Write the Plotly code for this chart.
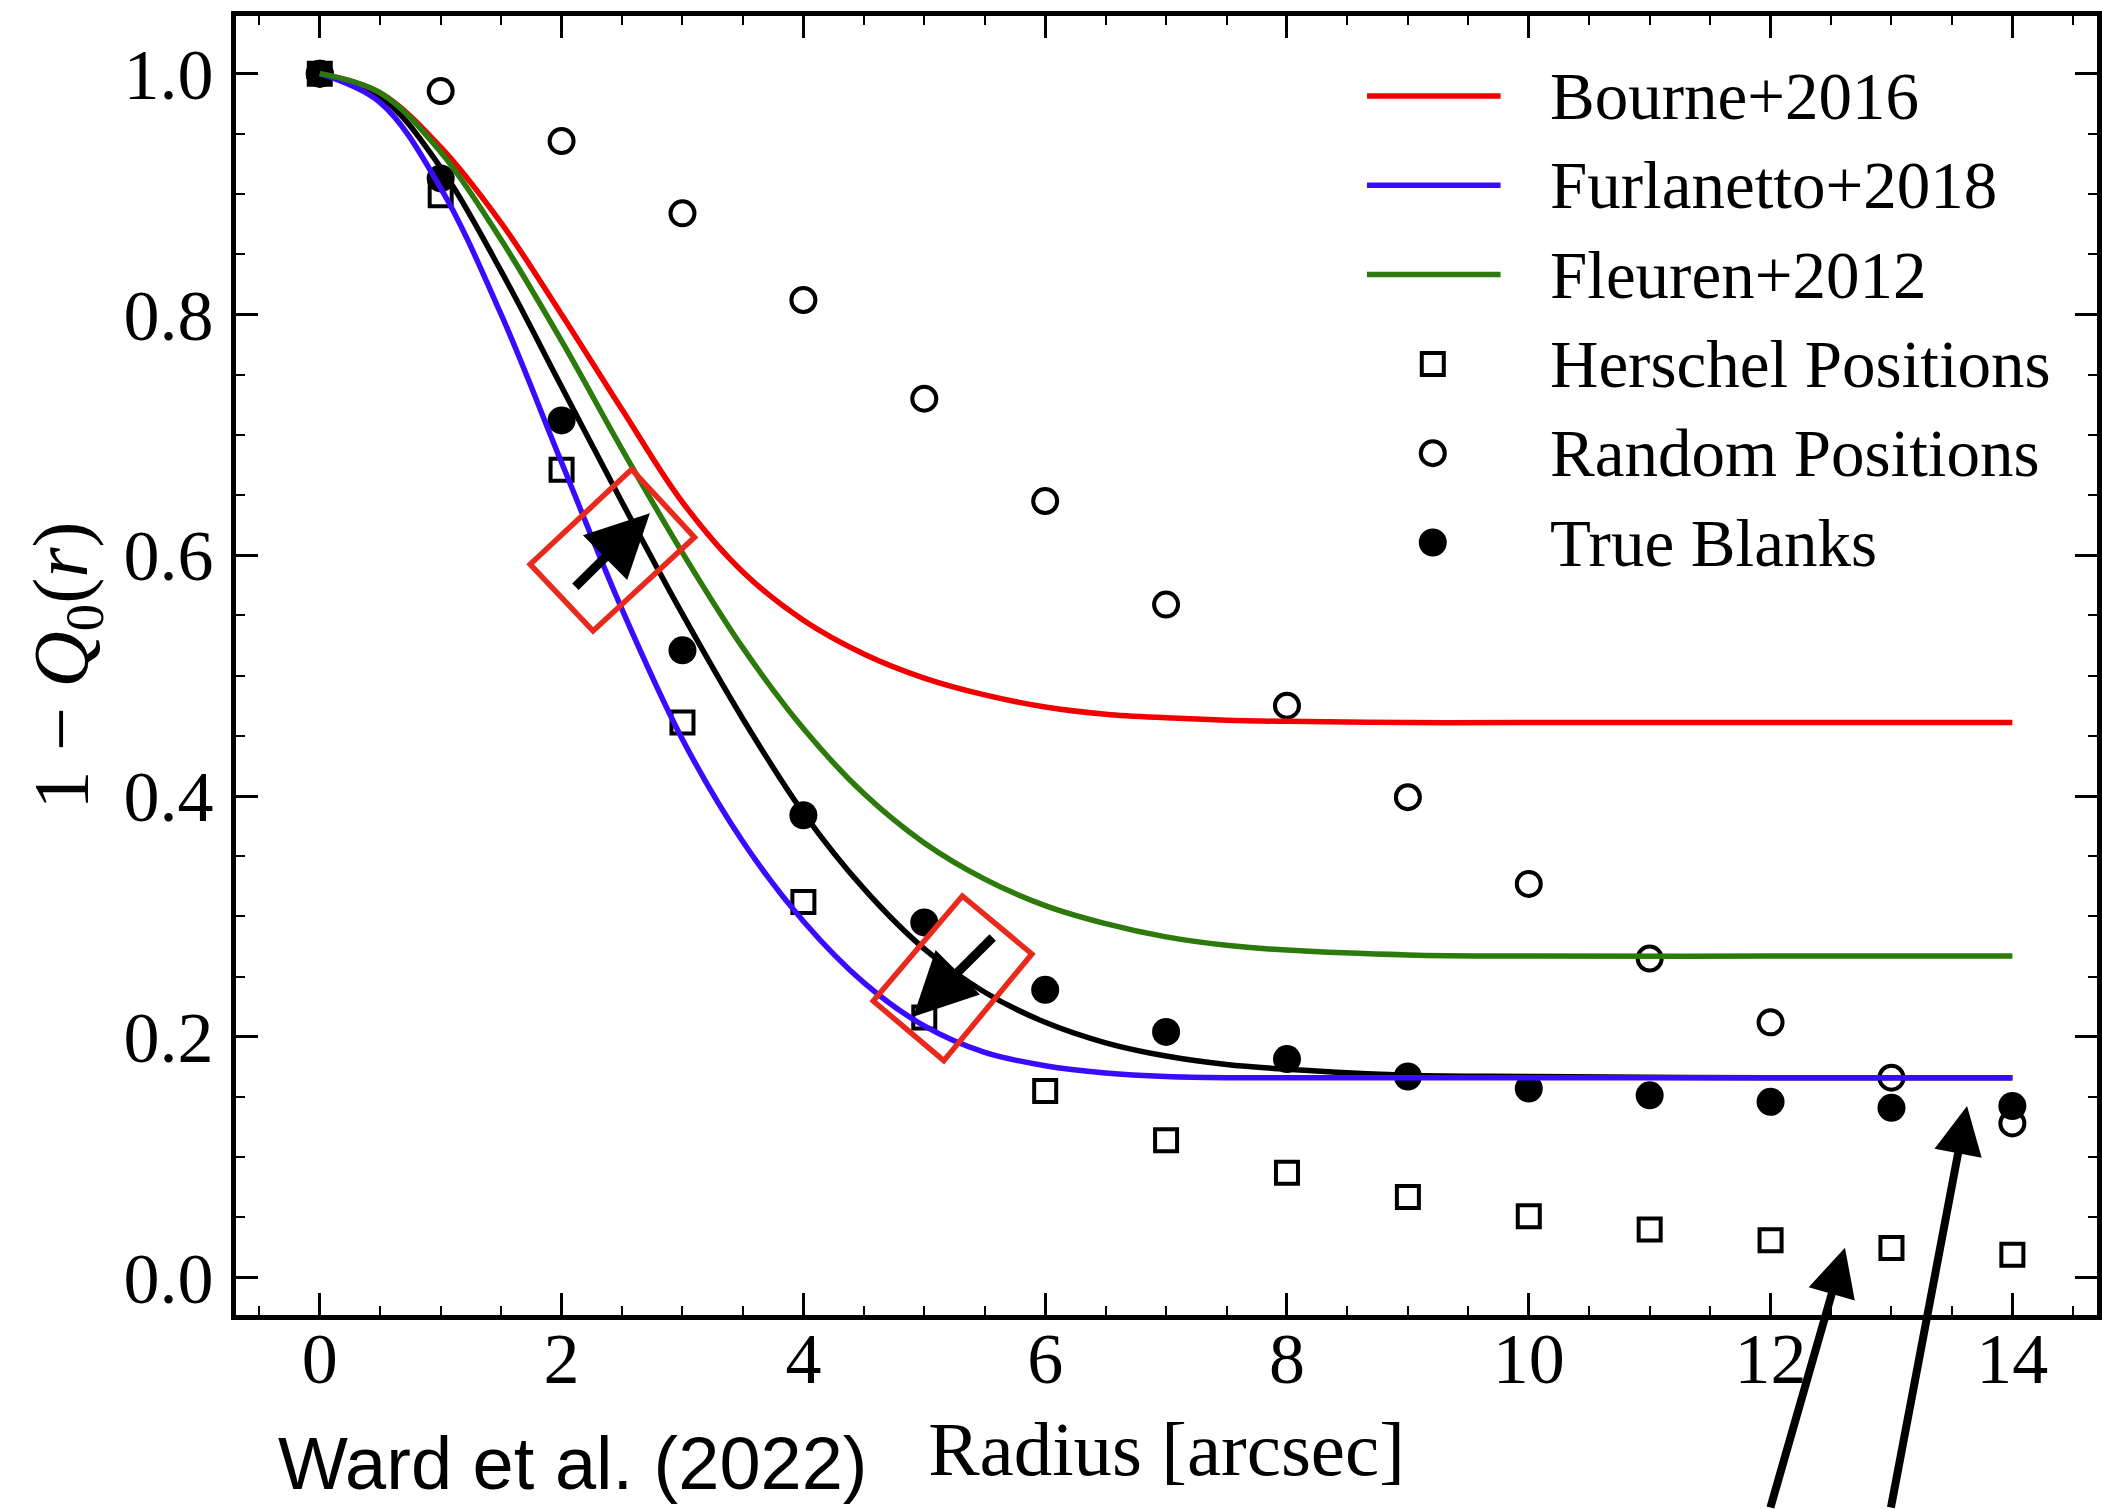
import plotly.graph_objects as go

# ---------------- data ----------------
radius = list(range(15))
herschel = [1.0, 0.899, 0.671, 0.461, 0.312, 0.216, 0.155, 0.114, 0.087, 0.067,
            0.051, 0.040, 0.031, 0.0245, 0.019]
random_pos = [1.0, 0.9855, 0.944, 0.884, 0.812, 0.730, 0.645, 0.559, 0.475, 0.399,
              0.327, 0.265, 0.212, 0.166, 0.128]
true_blanks = [1.0, 0.913, 0.712, 0.521, 0.384, 0.295, 0.239, 0.204, 0.1815, 0.167,
               0.157, 0.1514, 0.146, 0.141, 0.1425]

curve_r = [0, 0.5, 1, 1.5, 2, 2.5, 3, 3.5, 4, 4.5, 5, 5.5, 6, 6.5, 7, 7.5, 8, 9, 10, 12, 14]
bourne = [1.0, 0.984, 0.939, 0.876, 0.800, 0.721, 0.644, 0.586, 0.546, 0.518, 0.498,
          0.484, 0.474, 0.468, 0.465, 0.463, 0.462, 0.461, 0.461, 0.461, 0.461]
furlanetto = [1.0, 0.976, 0.905, 0.800, 0.677, 0.555, 0.447, 0.362, 0.296, 0.245, 0.209,
              0.187, 0.176, 0.170, 0.167, 0.166, 0.166, 0.166, 0.166, 0.166, 0.166]
fleuren = [1.0, 0.984, 0.935, 0.862, 0.778, 0.688, 0.602, 0.523, 0.456, 0.402, 0.361,
           0.331, 0.309, 0.294, 0.283, 0.276, 0.272, 0.268, 0.267, 0.267, 0.267]
fit_curve = [1.0, 0.981, 0.922, 0.836, 0.740, 0.644, 0.551, 0.464, 0.386, 0.323, 0.273,
             0.237, 0.212, 0.195, 0.184, 0.177, 0.173, 0.168, 0.167, 0.166, 0.166]

line_labels = ["Bourne+2016", "Furlanetto+2018", "Fleuren+2012"]
marker_labels = ["Herschel Positions", "Random Positions", "True Blanks"]
x_ticks = [0, 2, 4, 6, 8, 10, 12, 14]
y_ticks = [0.0, 0.2, 0.4, 0.6, 0.8, 1.0]

# ---------------- styles ----------------
W, H = 2102, 1509
ML, MR, MT, MB = 236, 0, 16, 194
PW, PH = W - ML - MR, H - MT - MB
RED, BLUE, GREEN, BLACK = "#f20000", "#3a0cff", "#2b7a0b", "#000000"
BOXRED = "#e8291c"
SERIF = "Liberation Serif"
SANS = "Liberation Sans"
LW = 5.5
MLW = 4


def px(x):
    return (x - ML) / PW


def py(y):
    return (H - MB - y) / PH


fig = go.Figure()

# markers
fig.add_trace(go.Scatter(x=radius, y=herschel, mode="markers", name=marker_labels[0],
                         marker=dict(symbol="square-open", size=22, color=BLACK,
                                     line=dict(width=MLW, color=BLACK)), showlegend=False))
fig.add_trace(go.Scatter(x=radius, y=random_pos, mode="markers", name=marker_labels[1],
                         marker=dict(symbol="circle-open", size=24, color=BLACK,
                                     line=dict(width=MLW, color=BLACK)), showlegend=False))
fig.add_trace(go.Scatter(x=radius, y=true_blanks, mode="markers", name=marker_labels[2],
                         marker=dict(symbol="circle", size=28, color=BLACK,
                                     line=dict(width=0)), showlegend=False))

# curves
for vals, col, name in [(fit_curve, BLACK, "fit"), (bourne, RED, line_labels[0]),
                        (furlanetto, BLUE, line_labels[1]), (fleuren, GREEN, line_labels[2])]:
    fig.add_trace(go.Scatter(x=curve_r, y=vals, mode="lines", name=name,
                             line=dict(color=col, width=LW, shape="spline", smoothing=1.0),
                             showlegend=False))

shapes = []
annotations = []

# ---------------- manual legend ----------------
row_y0, row_dy = 96.0, 89.3
line_x0, line_x1, mark_x, text_x = 1370, 1504, 1436, 1552
for i, (lab, col) in enumerate(zip(line_labels, [RED, BLUE, GREEN])):
    yy = row_y0 + i * row_dy
    shapes.append(dict(type="line", xref="paper", yref="paper", x0=px(line_x0), x1=px(line_x1),
                       y0=py(yy), y1=py(yy), line=dict(color=col, width=LW)))
for i, lab in enumerate(line_labels + marker_labels):
    yy = row_y0 + i * row_dy
    annotations.append(dict(text=lab, xref="paper", yref="paper", x=px(text_x), y=py(yy),
                            xanchor="left", yanchor="middle", showarrow=False,
                            font=dict(family=SERIF, size=67, color=BLACK)))
# legend marker keys
yy = row_y0 + 3 * row_dy
shapes.append(dict(type="rect", xref="paper", yref="paper", xsizemode="pixel", ysizemode="pixel",
                   xanchor=px(mark_x), yanchor=py(yy), x0=-11, x1=11, y0=-11, y1=11,
                   line=dict(color=BLACK, width=MLW)))
yy = row_y0 + 4 * row_dy
shapes.append(dict(type="circle", xref="paper", yref="paper", xsizemode="pixel", ysizemode="pixel",
                   xanchor=px(mark_x), yanchor=py(yy), x0=-12, x1=12, y0=-12, y1=12,
                   line=dict(color=BLACK, width=MLW)))
yy = row_y0 + 5 * row_dy
shapes.append(dict(type="circle", xref="paper", yref="paper", xsizemode="pixel", ysizemode="pixel",
                   xanchor=px(mark_x), yanchor=py(yy), x0=-14, x1=14, y0=-14, y1=14,
                   fillcolor=BLACK, line=dict(color=BLACK, width=0)))

# ---------------- red boxes ----------------
boxes = [[(632.7, 469.3), (695.7, 537.3), (594.0, 631.0), (531.0, 564.3)],
         [(964.3, 896.0), (1034.0, 954.0), (945.7, 1060.7), (875.0, 1001.0)]]
for corners in boxes:
    path = "M " + " L ".join(f"{px(a):.5f},{py(b):.5f}" for a, b in corners) + " Z"
    shapes.append(dict(type="path", xref="paper", yref="paper", path=path,
                       line=dict(color=BOXRED, width=5.5)))

# ---------------- arrows ----------------
arrows = [((651, 513.3), -76, 75, 9, 1.4),
          ((915, 1016.7), 81, -80.7, 9, 1.4),
          ((1849.3, 1247.7), -75, 313, 8, 1.2),
          ((1971.7, 1106.0), -76.4, 440, 8, 1.2)]
for (hx, hy), ax, ay, w, s in arrows:
    annotations.append(dict(text="", xref="paper", yref="paper", x=px(hx), y=py(hy),
                            ax=ax, ay=ay, showarrow=True, arrowhead=2, arrowsize=s,
                            arrowwidth=w, arrowcolor=BLACK, standoff=0))

# ---------------- credit text ----------------
annotations.append(dict(text="Ward et al. (2022)", xref="paper", yref="paper",
                        x=px(574), y=py(1463), xanchor="center", yanchor="middle",
                        showarrow=False, font=dict(family=SANS, size=74, color=BLACK)))

axis_common = dict(showline=True, linewidth=5, linecolor=BLACK, mirror="allticks",
                   ticks="inside", ticklen=22, tickwidth=2.5, tickcolor=BLACK,
                   showgrid=False, zeroline=False,
                   tickfont=dict(family=SERIF, size=72, color=BLACK))

fig.update_layout(
    width=W, height=H,
    margin=dict(l=ML, r=MR, t=MT, b=MB),
    paper_bgcolor="white", plot_bgcolor="white",
    showlegend=False,
    shapes=shapes, annotations=annotations,
    xaxis=dict(range=[-0.693, 14.7], tickvals=x_ticks, ticktext=[str(v) for v in x_ticks],
               minor=dict(ticks="inside", dtick=0.5, tick0=0, ticklen=9, tickwidth=2, tickcolor=BLACK),
               title=dict(text="Radius [arcsec]", font=dict(family=SERIF, size=77, color=BLACK),
                          standoff=24),
               ticklabelstandoff=-23, **axis_common),
    yaxis=dict(range=[-0.0311, 1.0479], tickvals=y_ticks, ticktext=[f"{v:.1f}" for v in y_ticks],
               minor=dict(ticks="inside", dtick=0.05, tick0=0, ticklen=9, tickwidth=2, tickcolor=BLACK),
               title=dict(text="1 − <i>Q</i><sub>0</sub>(<i>r</i>)",
                          font=dict(family=SERIF, size=78, color=BLACK), standoff=12),
               ticklabelstandoff=3, **axis_common),
)

fig.write_html("out.html")
